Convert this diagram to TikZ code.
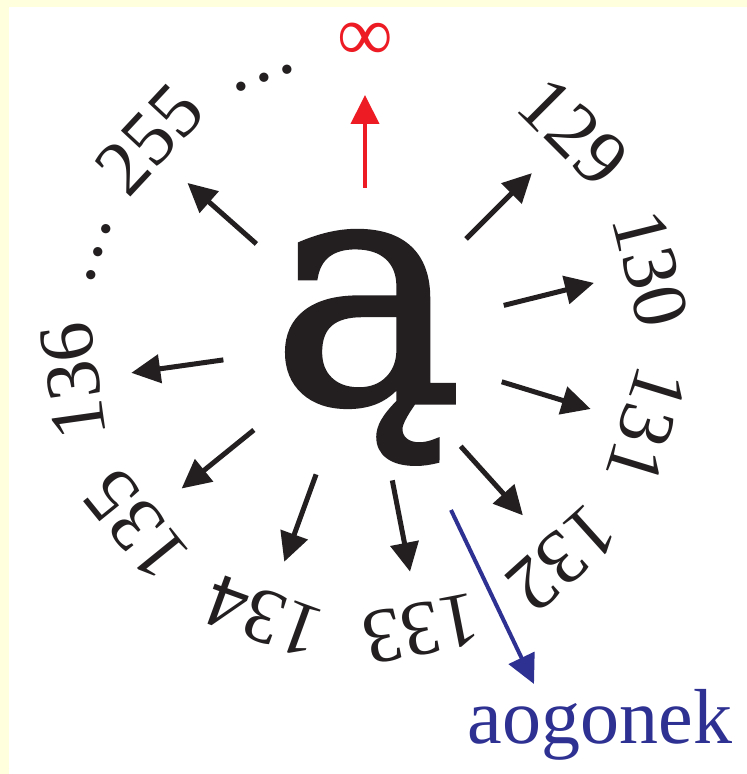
\documentclass[tikz,border=0pt]{standalone}
\usepackage{fontspec}
\setmainfont{Liberation Serif}
\newfontfamily\glyphfont[FakeBold=1.6]{DejaVu Serif}
\usetikzlibrary{arrows.meta}
\definecolor{inkblack}{HTML}{231F20}
\definecolor{inkred}{HTML}{ED1C24}
\definecolor{inkblue}{HTML}{2E3192}
\definecolor{paper}{HTML}{FFFFDD}
\newcommand\spreaddots{.\kern2.5pt.\kern2.5pt.}

\begin{document}
\begin{tikzpicture}[x=0.5pt, y=0.5pt, >={Triangle[length=14.5pt,width=14pt]},
  ring/.style={font=\fontsize{39}{39}\selectfont, inner sep=0pt, anchor=base}]
  \useasboundingbox (-365,-434) rectangle (382,340);
  \fill[paper] (-365,-434) rectangle (382,340);
  \fill[white] (-356,-434) rectangle (382,333);
  % the letter and its code points round it
  \node[inner sep=0pt, anchor=base, text=inkblack, font=\glyphfont\fontsize{160}{160}\selectfont] (letter) at (2,-62) {ą};
  \foreach \i in {0,...,7} {
    \pgfmathsetmacro\a{45-31*\i}
    \pgfmathtruncatemacro\num{129+\i}
    \coordinate (s\i) at (\a:143); \coordinate (e\i) at (\a:236);
    \draw[->, line width=2.5pt, inkblack] (s\i) -- (e\i);
    \node[ring, text=inkblack, rotate=\a-90] (n\i) at (\a:269) {\num};
  }
  \coordinate (s8) at (138.5:145); \coordinate (e8) at (138.5:237);
  \draw[->, line width=2.5pt, inkblack] (s8) -- (e8);
  \node[ring, text=inkblack, rotate=47] (n8) at (137:269) {255};
  \node[ring, text=inkblack, rotate=21] (dotsa) at (111:277) {\spreaddots};
  \node[ring, text=inkblack, rotate=71.7] (dotsb) at (161.7:277) {\spreaddots};
  % infinity on top
  \coordinate (s9) at (90:152); \coordinate (e9) at (90:245);
  \draw[->, line width=2pt, inkred] (s9) -- (e9);
  \node[ring, anchor=center, text=inkred] (inf) at (90:298) {∞};
  % the ogonek
  \coordinate (tail) at (86,-170); \coordinate (tip) at (169,-344);
  \draw[->, line width=2pt, inkblue] (tail) -- (tip);
  \node[ring, text=inkblue] (word) at (235,-403) {aogonek};
\end{tikzpicture}
\end{document}
